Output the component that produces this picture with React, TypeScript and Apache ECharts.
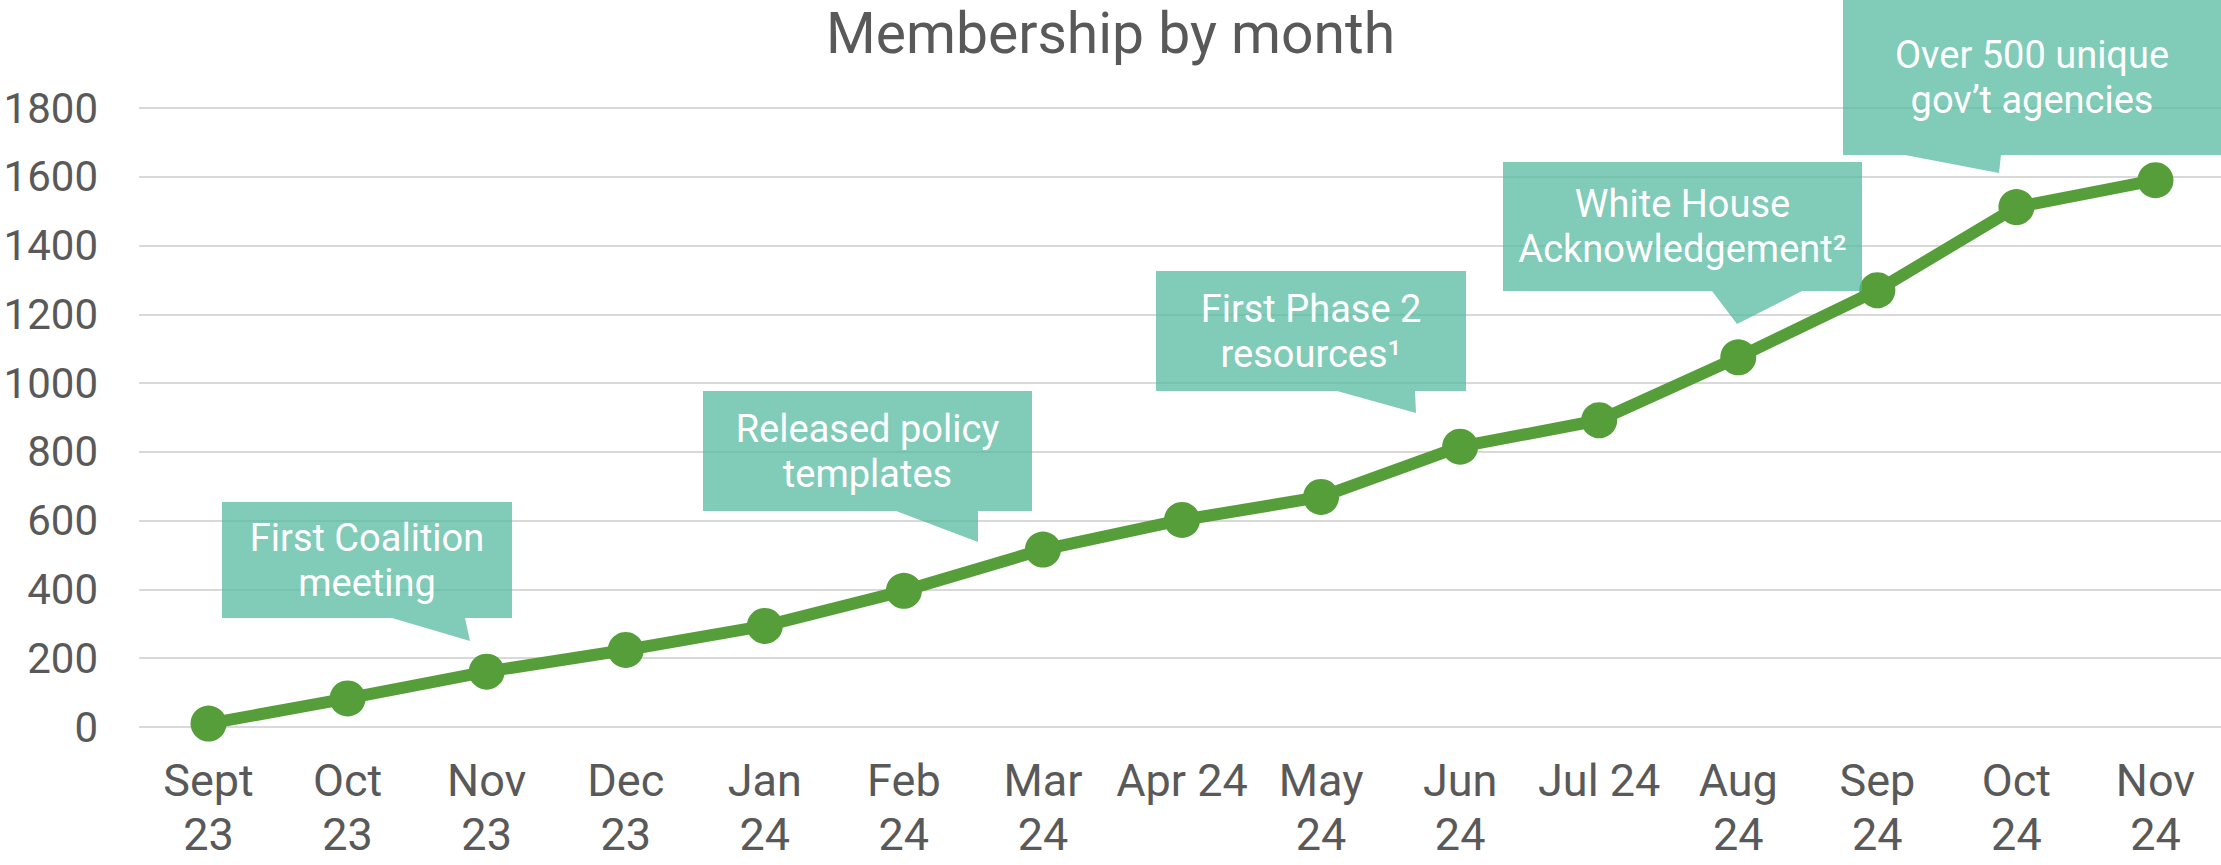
import React, { useEffect, useRef } from "react";
import * as echarts from "echarts";

const categories = [
  "Sept\n23", "Oct\n23", "Nov\n23", "Dec\n23", "Jan\n24", "Feb\n24", "Mar\n24",
  "Apr 24", "May\n24", "Jun\n24", "Jul 24", "Aug\n24", "Sep\n24", "Oct\n24", "Nov\n24",
];
const members = [10, 83, 161, 224, 294, 396, 516, 602, 669, 815, 892, 1075, 1270, 1512, 1590];
const yMin = 0;
const yMax = 1800;
const yStep = 200;
const titleText = "Membership by month";
const calloutTexts = [
  "First Coalition\nmeeting",
  "Released policy\ntemplates",
  "First Phase 2\nresources\u00b9",
  "White House\nAcknowledgement\u00b2",
  "Over 500 unique\ngov\u2019t agencies",
];

// layout of the callouts: box [x0, y0, x1, y1], tail [baseLeft, baseRight, tipX, tipY]
const calloutLayout = [
  { box: [222, 502, 512, 618], tail: [392, 465, 470, 641] },
  { box: [703, 391, 1032, 511], tail: [896, 978, 978, 542] },
  { box: [1156, 271, 1466, 391], tail: [1337, 1415, 1416, 413] },
  { box: [1503, 162, 1862, 291], tail: [1712, 1802, 1737, 324] },
  { box: [1843, -2, 2223, 155], tail: [1905, 2001, 1999, 173] },
];

const FONT = "Roboto, 'Noto Sans', sans-serif";
const GRAY = "#595959";
const GREEN = "#559E3A";
const TEAL = "rgba(80,183,158,0.72)";

export default function App() {
  const ref = useRef<HTMLDivElement>(null);
  useEffect(() => {
    if (!ref.current) return;
    const chart = echarts.init(ref.current, undefined, { renderer: "svg" });
    const graphics: any[] = [];
    calloutTexts.forEach((t, i) => {
      const { box, tail } = calloutLayout[i];
      const [x0, y0, x1, y1] = box;
      const [bl, br, tx, ty] = tail;
      graphics.push({
        type: "polygon",
        z: 100,
        shape: {
          points: [
            [x0, y0], [x1, y0], [x1, y1], [br, y1], [tx, ty], [bl, y1], [x0, y1],
          ],
        },
        style: { fill: TEAL },
      });
      graphics.push({
        type: "text",
        z: 101,
        x: (Math.max(x0, 0) + Math.min(x1, 2221)) / 2,
        y: (Math.max(y0, 0) + y1) / 2,
        style: {
          text: t,
          fill: "#ffffff",
          fontSize: 38,
          fontFamily: FONT,
          align: "center",
          verticalAlign: "middle",
          lineHeight: 45,
        },
      });
    });
    chart.setOption({
      animation: false,
      backgroundColor: "#ffffff",
      title: {
        text: titleText,
        left: "center",
        top: 0,
        textStyle: { fontSize: 57, fontWeight: "normal", color: GRAY, fontFamily: FONT },
      },
      grid: {
        left: 139,
        top: 108,
        width: 2086,
        height: 619,
        containLabel: false,
        outerBoundsMode: "none",
      },
      xAxis: {
        type: "category",
        data: categories,
        boundaryGap: true,
        axisLine: { show: false },
        axisTick: { show: false },
        axisLabel: {
          interval: 0,
          fontSize: 45,
          lineHeight: 54,
          color: GRAY,
          fontFamily: FONT,
          margin: 26,
        },
      },
      yAxis: {
        type: "value",
        min: yMin,
        max: yMax,
        interval: yStep,
        axisLine: { show: false },
        axisTick: { show: false },
        axisLabel: {
          fontSize: 42,
          color: GRAY,
          fontFamily: FONT,
          margin: 41,
          formatter: (v: number) => String(v),
        },
        splitLine: { lineStyle: { color: "#D9D9D9", width: 2 } },
      },
      series: [
        {
          type: "line",
          data: members,
          symbol: "circle",
          symbolSize: 36,
          lineStyle: { color: GREEN, width: 12 },
          itemStyle: { color: GREEN },
          z: 3,
        },
      ],
      graphic: graphics,
    });
    return () => chart.dispose();
  }, []);
  return (
    <div
      ref={ref}
      style={{ position: "fixed", left: 0, top: 0, width: 2221, height: 865, background: "#fff" }}
    />
  );
}
